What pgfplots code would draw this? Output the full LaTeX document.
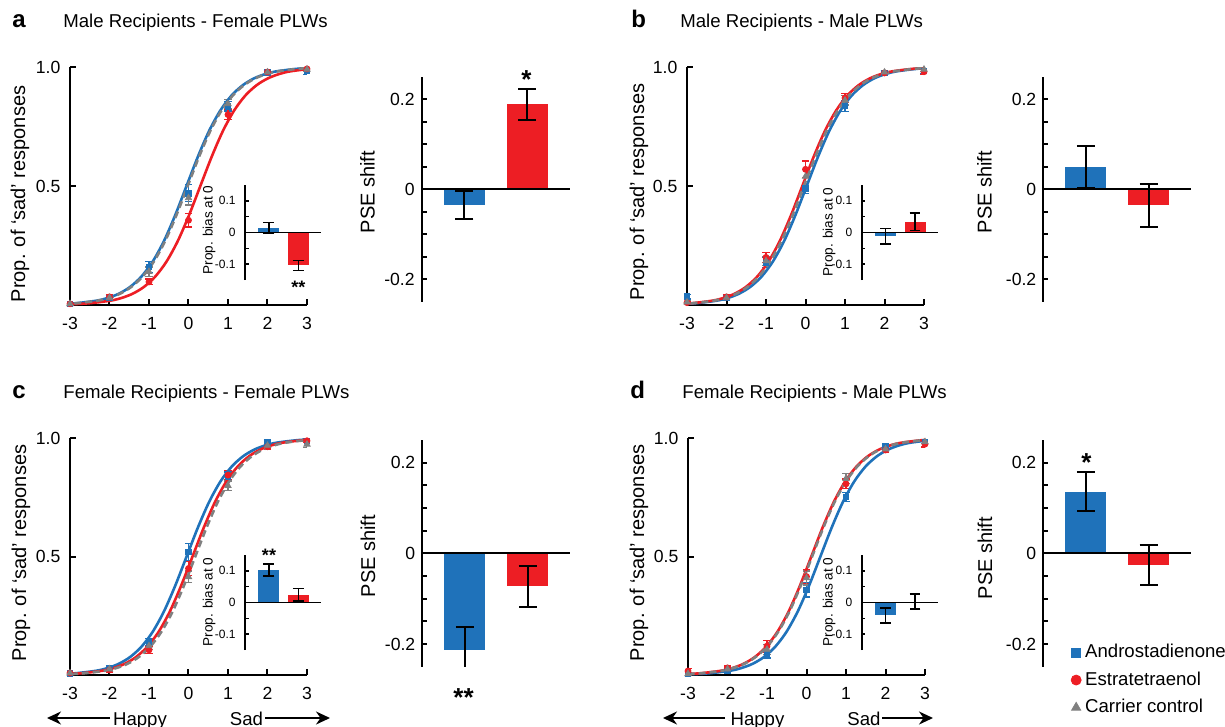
\documentclass[border=0pt]{standalone}
\usepackage{fontspec}
\setmainfont{Liberation Sans}
\usepackage{pgfplots}
\pgfplotsset{compat=1.18}
\usepackage{pgfplotstable}
\usetikzlibrary{arrows.meta}

\definecolor{cblue}{RGB}{31,114,186}
\definecolor{cred}{RGB}{237,30,36}
\definecolor{cgray}{RGB}{128,128,128}

\newcommand\fTick{\fontsize{8.8}{10}\selectfont}
\newcommand\fLab{\fontsize{10}{12}\selectfont}
\newcommand\fTitle{\fontsize{9.3}{11}\selectfont}
\newcommand\fPanel{\fontsize{12}{14}\selectfont\bfseries}
\newcommand\fIn{\fontsize{6}{7}\selectfont}
\newcommand\fInLab{\fontsize{6.8}{8}\selectfont}
\newcommand\fStar{\fontsize{13}{15}\selectfont\bfseries}
\newcommand\fStarS{\fontsize{9}{11}\selectfont\bfseries}

% fitted psychometric curves: x of blue / red / grey fit, p = proportion sad
\pgfplotstableread{
xb xr xg p
-3.479 -3.129 -3.449 0.0025
-2.907 -2.557 -2.877 0.0067
-2.336 -1.986 -2.306 0.0180
-2.050 -1.700 -2.020 0.0293
-1.764 -1.414 -1.734 0.0474
-1.479 -1.129 -1.449 0.0759
-1.193 -0.843 -1.163 0.1192
-0.907 -0.557 -0.877 0.1824
-0.621 -0.271 -0.591 0.2689
-0.336 0.014 -0.306 0.3775
-0.050 0.300 -0.020 0.5000
0.236 0.586 0.266 0.6225
0.521 0.871 0.551 0.7311
0.807 1.157 0.837 0.8176
1.093 1.443 1.123 0.8808
1.379 1.729 1.409 0.9241
1.664 2.014 1.694 0.9526
1.950 2.300 1.980 0.9707
2.236 2.586 2.266 0.9820
2.807 3.157 2.837 0.9933
3.379 3.729 3.409 0.9975
}\fitA
\pgfplotstableread{
xb xr xg p
-3.399 -3.509 -3.469 0.0025
-2.827 -2.937 -2.897 0.0067
-2.256 -2.366 -2.326 0.0180
-1.970 -2.080 -2.040 0.0293
-1.684 -1.794 -1.754 0.0474
-1.399 -1.509 -1.469 0.0759
-1.113 -1.223 -1.183 0.1192
-0.827 -0.937 -0.897 0.1824
-0.541 -0.651 -0.611 0.2689
-0.256 -0.366 -0.326 0.3775
0.030 -0.080 -0.040 0.5000
0.316 0.206 0.246 0.6225
0.601 0.491 0.531 0.7311
0.887 0.777 0.817 0.8176
1.173 1.063 1.103 0.8808
1.459 1.349 1.389 0.9241
1.744 1.634 1.674 0.9526
2.030 1.920 1.960 0.9707
2.316 2.206 2.246 0.9820
2.887 2.777 2.817 0.9933
3.459 3.349 3.389 0.9975
}\fitB
\pgfplotstableread{
xb xr xg p
-3.479 -3.329 -3.259 0.0025
-2.907 -2.757 -2.687 0.0067
-2.336 -2.186 -2.116 0.0180
-2.050 -1.900 -1.830 0.0293
-1.764 -1.614 -1.544 0.0474
-1.479 -1.329 -1.259 0.0759
-1.193 -1.043 -0.973 0.1192
-0.907 -0.757 -0.687 0.1824
-0.621 -0.471 -0.401 0.2689
-0.336 -0.186 -0.116 0.3775
-0.050 0.100 0.170 0.5000
0.236 0.386 0.456 0.6225
0.521 0.671 0.741 0.7311
0.807 0.957 1.027 0.8176
1.093 1.243 1.313 0.8808
1.379 1.529 1.599 0.9241
1.664 1.814 1.884 0.9526
1.950 2.100 2.170 0.9707
2.236 2.386 2.456 0.9820
2.807 2.957 3.027 0.9933
3.379 3.529 3.599 0.9975
}\fitC
\pgfplotstableread{
xb xr xg p
-3.079 -3.309 -3.289 0.0025
-2.507 -2.737 -2.717 0.0067
-1.936 -2.166 -2.146 0.0180
-1.650 -1.880 -1.860 0.0293
-1.364 -1.594 -1.574 0.0474
-1.079 -1.309 -1.289 0.0759
-0.793 -1.023 -1.003 0.1192
-0.507 -0.737 -0.717 0.1824
-0.221 -0.451 -0.431 0.2689
0.064 -0.166 -0.146 0.3775
0.350 0.120 0.140 0.5000
0.636 0.406 0.426 0.6225
0.921 0.691 0.711 0.7311
1.207 0.977 0.997 0.8176
1.493 1.263 1.283 0.8808
1.779 1.549 1.569 0.9241
2.064 1.834 1.854 0.9526
2.350 2.120 2.140 0.9707
2.636 2.406 2.426 0.9820
3.207 2.977 2.997 0.9933
3.779 3.549 3.569 0.9975
}\fitD

% observed proportions with errors (b = androstadienone, r = estratetraenol, g = carrier)
\pgfplotstableread{
x b be r re g ge
-3 0.005 0.005 0.005 0.004 0.005 0.004
-2 0.030 0.008 0.034 0.008 0.030 0.008
-1 0.160 0.022 0.097 0.012 0.140 0.020
0 0.470 0.036 0.356 0.028 0.450 0.030
1 0.835 0.020 0.800 0.020 0.845 0.020
2 0.978 0.008 0.979 0.008 0.978 0.008
3 0.983 0.015 0.992 0.006 0.990 0.008
}\ptsA
\pgfplotstableread{
x b be r re g ge
-3 0.035 0.010 0.010 0.006 0.012 0.006
-2 0.030 0.008 0.034 0.008 0.030 0.008
-1 0.178 0.022 0.200 0.020 0.185 0.020
0 0.490 0.022 0.570 0.035 0.540 0.030
1 0.836 0.022 0.870 0.020 0.860 0.020
2 0.976 0.008 0.975 0.008 0.978 0.008
3 0.983 0.010 0.980 0.012 0.990 0.008
}\ptsB
\pgfplotstableread{
x b be r re g ge
-3 0.008 0.004 0.008 0.004 0.008 0.004
-2 0.030 0.008 0.021 0.008 0.025 0.008
-1 0.140 0.015 0.106 0.015 0.123 0.015
0 0.520 0.035 0.450 0.030 0.415 0.025
1 0.838 0.020 0.845 0.020 0.800 0.020
2 0.985 0.008 0.965 0.010 0.970 0.010
3 0.990 0.008 0.990 0.008 0.975 0.012
}\ptsC
\pgfplotstableread{
x b be r re g ge
-3 0.005 0.004 0.017 0.012 0.005 0.004
-2 0.020 0.006 0.030 0.008 0.025 0.008
-1 0.087 0.015 0.122 0.025 0.108 0.020
0 0.360 0.030 0.416 0.030 0.410 0.030
1 0.752 0.020 0.808 0.020 0.830 0.020
2 0.965 0.010 0.951 0.010 0.955 0.010
3 0.985 0.008 0.976 0.012 0.985 0.008
}\ptsD

\pgfplotsset{
  noarrows/.style={axis line style={-},
    every inner x axis line/.append style={-},
    every inner y axis line/.append style={-},
    every outer x axis line/.append style={-},
    every outer y axis line/.append style={-}},
  curve/.style={
    scale only axis, anchor=south west, width=118.5pt, height=119pt,
    xmin=-3, xmax=3, ymin=0, ymax=1,
    axis lines=left, noarrows, axis line style={line width=1pt},
    xtick={-3,...,3}, xticklabels={-3,-2,-1,0,1,2,3},
    ytick={0.5,1}, yticklabels={0.5,1.0},
    tick align=inside, major tick length=3pt,
    tick style={black, line width=1pt},
    tick label style={font=\fTick},
    xticklabel style={yshift=-2.5pt},
    yticklabel style={xshift=-1.3pt},
  },
  bars/.style={
    scale only axis, anchor=south west, width=74pt, height=112.5pt,
    xmin=0.32, xmax=2.68, ymin=-0.25, ymax=0.25,
    axis x line=middle, axis y line=left, noarrows,
    axis line style={line width=1pt},
    xtick=\empty,
    ytick={-0.2,0,0.2}, yticklabels={-0.2,0,0.2},
    minor ytick={-0.15,-0.1,-0.05,0.05,0.1,0.15},
    tick align=inside, major tick length=2.5pt, minor tick length=2.5pt,
    tick style={black, line width=1pt},
    tick label style={font=\fTick},
    axis on top,
  },
  inset/.style={
    scale only axis, anchor=south west, width=38pt, height=47.5pt,
    xmin=0.19, xmax=2.77, ymin=-0.15, ymax=0.15,
    axis x line=middle, axis y line=left, noarrows,
    axis line style={line width=0.9pt},
    xtick=\empty,
    ytick={-0.1,0,0.1}, yticklabels={-0.1,0,0.1},
    minor ytick={-0.05,0.05},
    tick align=inside, major tick length=1.8pt, minor tick length=1.8pt,
    tick style={black, line width=0.8pt},
    tick label style={font=\fIn},
    yticklabel style={xshift=-1.2pt},
    axis on top,
  },
  bigbar/.style={ybar, bar width=20.5pt, bar shift=0pt, draw=none, forget plot,
    error bars/y dir=both, error bars/y explicit,
    error bars/error bar style={black, line width=1pt},
    error bars/error mark options={rotate=90, black, line width=1pt, mark size=4.5pt}},
  smallbar/.style={ybar, bar width=10.5pt, bar shift=0pt, draw=none, forget plot,
    error bars/y dir=both, error bars/y explicit,
    error bars/error bar style={black, line width=0.75pt},
    error bars/error mark options={rotate=90, black, line width=0.75pt, mark size=2.7pt}},
  pts/.style={only marks,
    error bars/y dir=both, error bars/y explicit,
    error bars/error bar style={line width=0.6pt},
    error bars/error mark options={rotate=90, line width=0.6pt, mark size=1.8pt}},
  ptb/.style={pts, cblue, mark=square*, mark size=1.4pt},
  ptr/.style={pts, cred, mark=*, mark size=1.5pt},
  ptg/.style={pts, cgray, mark=triangle*, mark size=1.8pt},
  fitb/.style={cblue, line width=1.3pt, smooth, no marks},
  fitr/.style={cred, line width=1.3pt, smooth, no marks},
  fitg/.style={cgray, line width=1.3pt, smooth, no marks, dash pattern=on 3.5pt off 2pt},
}

\begin{document}
\begin{tikzpicture}
\path[use as bounding box] (0,0) rectangle (612.5pt,-363.5pt);

% ---------- a ----------
\node[anchor=base west, inner sep=0pt, font=\fPanel] at (6pt,-14pt) {a};
\node[anchor=base west, inner sep=0pt, font=\fTitle] at (31.5pt,-14pt) {Male Recipients - Female PLWs};
\begin{axis}[curve, at={(35pt,-152.5pt)}]
  \addplot[ptb] table[x=x,y=b,y error=be]{\ptsA};
  \addplot[ptr] table[x=x,y=r,y error=re]{\ptsA};
  \addplot[ptg] table[x=x,y=g,y error=ge]{\ptsA};
  \addplot[fitb] table[x=xb,y=p]{\fitA};
  \addplot[fitr] table[x=xr,y=p]{\fitA};
  \addplot[fitg] table[x=xg,y=p]{\fitA};
\end{axis}
\begin{axis}[inset, at={(122.5pt,-140pt)}]
  \addplot[fill=cblue, smallbar] coordinates {(1,0.015) +- (0,0.016)};
  \addplot[fill=cred, smallbar] coordinates {(2,-0.104) +- (0,0.016)};
\end{axis}
\begin{axis}[bars, at={(210.85pt,-150.75pt)}]
  \addplot[fill=cblue, bigbar] coordinates {(1,-0.036) +- (0,0.031)};
  \addplot[fill=cred, bigbar] coordinates {(2,0.188) +- (0,0.034)};
\end{axis}
\node[rotate=90, font=\fLab] at (10pt,-97pt) {Prop. of ‘sad’ responses};
\node[rotate=90, font=\fLab] at (183.75pt,-96pt) {PSE shift};
\node[rotate=90, font=\fInLab] at (104.5pt,-115pt) {Prop. bias at 0};
\node[font=\fStar, anchor=base] at (263.25pt,-44.3pt) {*};
\node[font=\fStarS, anchor=base] at (149.15pt,-146.7pt) {**};

% ---------- b ----------
\node[anchor=base west, inner sep=0pt, font=\fPanel] at (315.5pt,-14pt) {b};
\node[anchor=base west, inner sep=0pt, font=\fTitle] at (340pt,-14pt) {Male Recipients - Male PLWs};
\begin{axis}[curve, at={(343.5pt,-152.5pt)}]
  \addplot[ptb] table[x=x,y=b,y error=be]{\ptsB};
  \addplot[ptr] table[x=x,y=r,y error=re]{\ptsB};
  \addplot[ptg] table[x=x,y=g,y error=ge]{\ptsB};
  \addplot[fitb] table[x=xb,y=p]{\fitB};
  \addplot[fitr] table[x=xr,y=p]{\fitB};
  \addplot[fitg] table[x=xg,y=p]{\fitB};
\end{axis}
\begin{axis}[inset, at={(430.85pt,-140pt)}]
  \addplot[fill=cblue, smallbar] coordinates {(1,-0.012) +- (0,0.025)};
  \addplot[fill=cred, smallbar] coordinates {(2,0.034) +- (0,0.027)};
\end{axis}
\begin{axis}[bars, at={(521.65pt,-150.75pt)}]
  \addplot[fill=cblue, bigbar] coordinates {(1,0.049) +- (0,0.047)};
  \addplot[fill=cred, bigbar] coordinates {(2,-0.036) +- (0,0.048)};
\end{axis}
\node[rotate=90, font=\fLab] at (319.5pt,-96pt) {Prop. of ‘sad’ responses};
\node[rotate=90, font=\fLab] at (492.25pt,-96pt) {PSE shift};
\node[rotate=90, font=\fInLab] at (414.5pt,-116pt) {Prop. bias at 0};

% ---------- c ----------
\node[anchor=base west, inner sep=0pt, font=\fPanel] at (6pt,-199pt) {c};
\node[anchor=base west, inner sep=0pt, font=\fTitle] at (31.5pt,-199pt) {Female Recipients - Female PLWs};
\begin{axis}[curve, height=118.3pt, at={(35pt,-337.5pt)}]
  \addplot[ptb] table[x=x,y=b,y error=be]{\ptsC};
  \addplot[ptr] table[x=x,y=r,y error=re]{\ptsC};
  \addplot[ptg] table[x=x,y=g,y error=ge]{\ptsC};
  \addplot[fitb] table[x=xb,y=p]{\fitC};
  \addplot[fitr] table[x=xr,y=p]{\fitC};
  \addplot[fitg] table[x=xg,y=p]{\fitC};
\end{axis}
\begin{axis}[inset, at={(122.5pt,-325pt)}]
  \addplot[fill=cblue, smallbar] coordinates {(1,0.102) +- (0,0.019)};
  \addplot[fill=cred, smallbar] coordinates {(2,0.024) +- (0,0.020)};
\end{axis}
\begin{axis}[bars, height=113.5pt, at={(211.15pt,-333.4pt)}]
  \addplot[fill=cblue, bigbar] coordinates {(1,-0.214) +- (0,0.052)};
  \addplot[fill=cred, bigbar] coordinates {(2,-0.073) +- (0,0.046)};
\end{axis}
\node[rotate=90, font=\fLab] at (10.5pt,-276.5pt) {Prop. of ‘sad’ responses};
\node[rotate=90, font=\fLab] at (184pt,-278pt) {PSE shift};
\node[rotate=90, font=\fInLab] at (104.5pt,-301pt) {Prop. bias at 0};
\node[font=\fStar, anchor=base] at (231.75pt,-353.3pt) {**};
\node[font=\fStarS, anchor=base] at (134.5pt,-280.5pt) {**};

% ---------- d ----------
\node[anchor=base west, inner sep=0pt, font=\fPanel] at (315pt,-199pt) {d};
\node[anchor=base west, inner sep=0pt, font=\fTitle] at (341pt,-199pt) {Female Recipients - Male PLWs};
\begin{axis}[curve, height=118.3pt, at={(344pt,-337.5pt)}]
  \addplot[ptb] table[x=x,y=b,y error=be]{\ptsD};
  \addplot[ptr] table[x=x,y=r,y error=re]{\ptsD};
  \addplot[ptg] table[x=x,y=g,y error=ge]{\ptsD};
  \addplot[fitb] table[x=xb,y=p]{\fitD};
  \addplot[fitr] table[x=xr,y=p]{\fitD};
  \addplot[fitg] table[x=xg,y=p]{\fitD};
\end{axis}
\begin{axis}[inset, at={(430.85pt,-325pt)}]
  \addplot[fill=cblue, smallbar] coordinates {(1,-0.041) +- (0,0.024)};
  \addplot[fill=cred, smallbar] coordinates {(2,0.003) +- (0,0.024)};
\end{axis}
\begin{axis}[bars, height=113.5pt, at={(521.65pt,-333.4pt)},
  legend style={at={(axis description cs:0.145,0.136)}, anchor=north west,
    draw=none, fill=none, font=\fTitle, row sep=1.5pt, cells={anchor=west},
    /tikz/every even column/.append style={column sep=2.5pt}},
  legend image code/.code={\draw[#1] plot coordinates {(0pt,0pt)};}]
  \addplot[fill=cblue, bigbar] coordinates {(1,0.136) +- (0,0.043)};
  \addplot[fill=cred, bigbar] coordinates {(2,-0.026) +- (0,0.044)};
  \addlegendimage{only marks, mark=square*, cblue, mark size=2.2pt}
  \addlegendentry{Androstadienone}
  \addlegendimage{only marks, mark=*, cred, mark size=2.5pt}
  \addlegendentry{Estratetraenol}
  \addlegendimage{only marks, mark=triangle*, cgray, mark size=2.6pt}
  \addlegendentry{Carrier control}
\end{axis}
\node[rotate=90, font=\fLab] at (319.5pt,-276.5pt) {Prop. of ‘sad’ responses};
\node[rotate=90, font=\fLab] at (492.5pt,-279pt) {PSE shift};
\node[rotate=90, font=\fInLab] at (414.5pt,-301pt) {Prop. bias at 0};
\node[font=\fStar, anchor=base] at (543.25pt,-235.8pt) {*};

% ---------- Happy / Sad ----------
\draw[line width=1pt, -{Stealth[length=7pt,width=6.5pt]}] (55pt,-359pt) -- (23.5pt,-359pt);
\node[font=\fTitle, anchor=base] at (70pt,-362.5pt) {Happy};
\node[font=\fTitle, anchor=base] at (123.25pt,-362.5pt) {Sad};
\draw[line width=1pt, -{Stealth[length=7pt,width=6.5pt]}] (132.5pt,-359pt) -- (165pt,-359pt);
\draw[line width=1pt, -{Stealth[length=7pt,width=6.5pt]}] (362.5pt,-359pt) -- (331.5pt,-359pt);
\node[font=\fTitle, anchor=base] at (378.75pt,-362.5pt) {Happy};
\node[font=\fTitle, anchor=base] at (432pt,-362.5pt) {Sad};
\draw[line width=1pt, -{Stealth[length=7pt,width=6.5pt]}] (441pt,-359pt) -- (466.5pt,-359pt);
\end{tikzpicture}
\end{document}
